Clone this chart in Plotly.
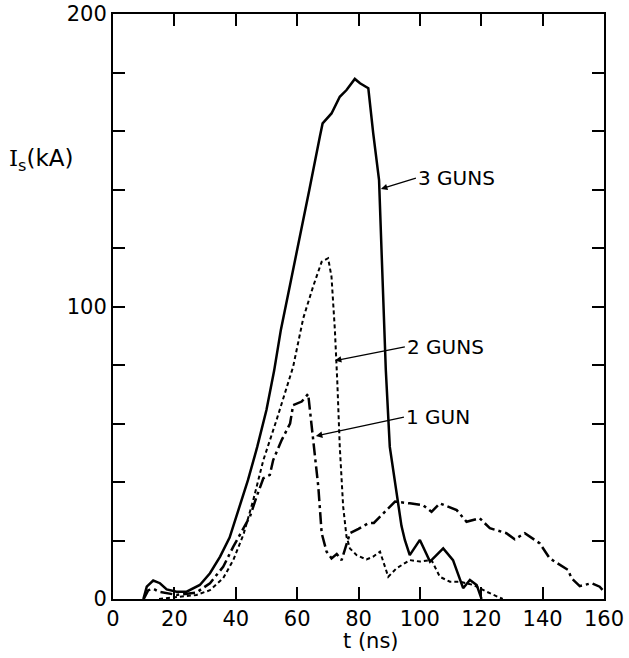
import plotly.graph_objects as go

# 3 GUNS (solid)
t3 = [9.9, 11, 13.1, 15.3, 17.5, 20.7, 24, 28.3, 31.6, 34.9, 38, 41.4, 44, 47, 50, 52.5, 54.7,
      58, 61, 64, 67.4, 68.3, 71.2, 73.9, 76.1, 78.8, 80.5, 83.2, 84.8, 86.7, 87.5, 88.3, 88.9,
      90.2, 92.6, 94, 95.1, 96.7, 100, 103.3, 107.6, 110.8, 114.1, 116.3, 118.5, 120.1]
i3 = [0, 4.2, 6.3, 5.4, 3.3, 2.5, 2.5, 4.8, 8.8, 14.5, 21, 32, 40.7, 52, 64.6, 78, 92,
      109, 124, 140, 158, 162.6, 166, 171.7, 174, 177.8, 176.3, 174.6, 159.2, 143.2, 119.3, 92, 78.3,
      52, 33.8, 25, 20.2, 15, 20.2, 12.8, 17.3, 13.3, 3.7, 6.5, 4.8, 0]

# 2 GUNS (short dashes)
t2 = [15, 21.8, 27.2, 31.6, 35.9, 39.2, 42.5, 45.7, 49, 53.3, 58.7, 62, 65.2, 68, 70.1, 71.2,
      72.3, 73.1, 73.9, 75, 76.1, 77.2, 79.4, 82.6, 84.8, 87, 89.7, 92.4, 96.7, 100, 103.8,
      106.5, 109.8, 113, 117.4, 121.7, 127]
i2 = [0, 0.8, 1.4, 3, 7.1, 13.3, 22, 33.8, 47.5, 61.2, 79.4, 96, 106.8, 115.3, 116.5, 110.2,
      92, 74, 52, 31.6, 21.3, 17.3, 15, 13.5, 14.5, 16.2, 7.6, 10.5, 13.3, 12.8, 13.3,
      7.6, 5.9, 5.9, 4.8, 2.5, 0]

# 1 GUN (dash-dot)
t1 = [10, 11.5, 13.1, 15, 20.7, 24, 27.2, 31.6, 35.9, 39.2, 42, 44.6, 46.8, 49, 51.1, 52.2, 55,
      57.7, 58.7, 61.5, 63.6, 65.2, 66.9, 68, 69.6, 71.2, 72.9, 74.5, 77.2, 80, 83.2, 85, 88,
      91.9, 96.7, 101, 103.8, 106.5, 112, 115.2, 119.5, 122.8, 128.2, 130.9, 134.2, 139.1,
      142.3, 145.6, 148.3, 149.4, 152.1, 155.9, 158.6, 160]
i1 = [0, 3, 3.5, 2.5, 1.4, 1.8, 2.2, 5.4, 11, 17.9, 23, 28.1, 35, 41.3, 42.4, 47.5, 54.4,
      60, 66.3, 67.5, 70.1, 54.4, 38.4, 22.5, 16.2, 13.9, 15.4, 13.3, 22.5, 24, 25.9, 26, 29.3,
      33.3, 32.7, 32.1, 29.8, 32.7, 30.4, 26.4, 27.6, 24.2, 22.5, 20.4, 22.5, 19,
      13.9, 11.6, 9.9, 7.1, 4.4, 5.4, 4.2, 2.5]

x_ticks = list(range(0, 161, 20))
y_ticks = list(range(0, 201, 20))
y_ticktext = ["0" if v == 0 else ("100" if v == 100 else ("200" if v == 200 else "")) for v in y_ticks]

labels = ["3 GUNS", "2 GUNS", "1 GUN"]
label_head = [(87.3, 140.2), (72.3, 81.5), (66.1, 55.7)]
label_tail = [(98.7, 143.9), (95.1, 86.2), (94.8, 62.2)]

FONT = "DejaVu Sans"

fig = go.Figure()
fig.add_trace(go.Scatter(x=t3, y=i3, mode="lines", line=dict(color="black", width=2.5), showlegend=False))
fig.add_trace(go.Scatter(x=t2, y=i2, mode="lines", line=dict(color="black", width=2, dash="4px,3px"), showlegend=False))
fig.add_trace(go.Scatter(x=t1, y=i1, mode="lines", line=dict(color="black", width=2.5, dash="12px,4px,3px,4px"), showlegend=False))

for txt, (hx, hy), (tx, ty) in zip(labels, label_head, label_tail):
    fig.add_annotation(x=hx, y=hy, ax=tx, ay=ty, axref="x", ayref="y", xref="x", yref="y",
                       text=txt, showarrow=True, arrowhead=2, arrowsize=1, arrowwidth=1.3,
                       arrowcolor="black", xanchor="left", yanchor="middle",
                       font=dict(family=FONT, size=20, color="black"))

# axis titles as annotations (paper coords)
fig.add_annotation(text="<span style=\"font-family:'DejaVu Serif'\">I</span><sub>s</sub>(kA)",
                   x=-0.216, y=0.75, xref="paper", yref="paper",
                   xanchor="left", yanchor="middle", showarrow=False,
                   font=dict(family=FONT, size=23, color="black"))
fig.add_annotation(text="t (ns)", x=0.525, y=-0.072, xref="paper", yref="paper",
                   xanchor="center", yanchor="middle", showarrow=False,
                   font=dict(family=FONT, size=21, color="black"))

fig.update_xaxes(range=[0, 160], tickvals=x_ticks, ticktext=[str(v) for v in x_ticks],
                 ticks="inside", ticklen=12, tickwidth=2, tickcolor="black",
                 showline=True, linewidth=2, linecolor="black", mirror="ticks",
                 showgrid=False, zeroline=False, automargin=False,
                 tickfont=dict(family=FONT, size=21, color="black"))
fig.update_yaxes(range=[0, 200], tickvals=y_ticks, ticktext=y_ticktext,
                 ticks="inside", ticklen=12, tickwidth=2, tickcolor="black",
                 showline=True, linewidth=2, linecolor="black", mirror="ticks",
                 showgrid=False, zeroline=False, automargin=False,
                 tickfont=dict(family=FONT, size=21, color="black"))

fig.update_layout(width=629, height=658, margin=dict(l=113, r=25, t=14, b=59),
                  plot_bgcolor="white", paper_bgcolor="white")

# remove the default 8px page margin so the figure sits at the window's corner
fig.write_html("out.html", config={"displayModeBar": False},
               post_script="document.body.style.margin='0';")
